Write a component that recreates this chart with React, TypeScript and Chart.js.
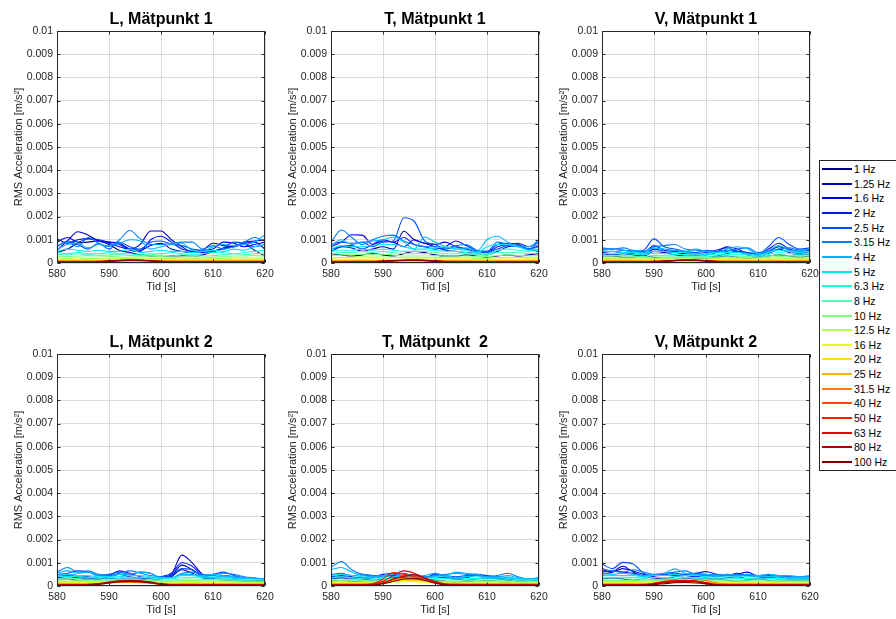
import React, { useEffect, useRef } from 'react';
import { Chart, registerables } from 'chart.js';

Chart.register(...registerables);

// Time axis [s]
const times = [580, 582, 584, 586, 588, 590, 592, 594, 596, 598, 600, 602, 604, 606, 608, 610, 612, 614, 616, 618, 620];

const bandLabels = ['1 Hz', '1.25 Hz', '1.6 Hz', '2 Hz', '2.5 Hz', '3.15 Hz', '4 Hz', '5 Hz', '6.3 Hz', '8 Hz', '10 Hz', '12.5 Hz', '16 Hz', '20 Hz', '25 Hz', '31.5 Hz', '40 Hz', '50 Hz', '63 Hz', '80 Hz', '100 Hz'];

const panelTitles = ['L, Mätpunkt 1', 'T, Mätpunkt 1', 'V, Mätpunkt 1', 'L, Mätpunkt 2', 'T, Mätpunkt  2', 'V, Mätpunkt 2'];

const xTicks = [580, 590, 600, 610, 620];
const yTicks = [0, 0.001, 0.002, 0.003, 0.004, 0.005, 0.006, 0.007, 0.008, 0.009, 0.01];

// RMS acceleration per band, values in mm/s² (1e-3 m/s²), one row per band, one column per time
const valuesL1 = [
  [0.45, 0.6, 0.85, 0.9, 0.95, 0.8, 0.55, 0.45, 0.35, 0.3, 0.28, 0.3, 0.32, 0.3, 0.35, 0.5, 0.65, 0.7, 0.8, 0.55, 0.3],
  [0.55, 0.95, 1.35, 1.2, 0.95, 0.9, 0.85, 0.6, 0.55, 0.75, 0.85, 0.6, 0.5, 0.45, 0.55, 0.85, 0.75, 0.7, 0.9, 0.95, 1.0],
  [0.9, 1.1, 0.9, 1.05, 0.95, 0.85, 0.7, 0.6, 0.8, 1.38, 1.38, 1.0, 0.7, 0.5, 0.55, 0.6, 0.9, 0.85, 0.7, 0.8, 0.9],
  [1.05, 0.85, 1.0, 1.05, 1.0, 0.9, 0.8, 0.55, 0.5, 1.0, 1.15, 0.9, 0.6, 0.5, 0.45, 0.5, 0.6, 0.75, 0.85, 0.9, 0.6],
  [0.7, 0.95, 0.8, 0.6, 0.85, 0.6, 0.9, 0.7, 0.6, 0.9, 0.95, 0.8, 0.75, 0.6, 0.55, 0.5, 0.65, 0.9, 0.85, 0.7, 0.8],
  [0.75, 0.9, 0.7, 1.1, 0.85, 0.7, 1.0, 1.4, 1.05, 0.8, 0.8, 0.85, 0.9, 0.9, 0.6, 0.75, 0.6, 0.7, 0.9, 1.1, 0.95],
  [0.6, 0.8, 0.85, 0.65, 0.8, 0.75, 0.85, 1.0, 0.95, 0.6, 0.7, 0.8, 0.85, 0.55, 0.5, 0.7, 0.8, 0.75, 0.8, 0.9, 1.22],
  [0.5, 0.6, 0.55, 0.5, 0.55, 0.5, 0.5, 0.6, 0.45, 0.5, 0.55, 0.5, 0.5, 0.45, 0.5, 0.55, 0.5, 0.6, 0.55, 0.7, 0.8],
  [0.45, 0.4, 0.45, 0.4, 0.4, 0.45, 0.4, 0.4, 0.35, 0.4, 0.4, 0.45, 0.4, 0.35, 0.4, 0.45, 0.45, 0.4, 0.45, 0.5, 0.55],
  [0.38, 0.35, 0.4, 0.37, 0.33, 0.35, 0.36, 0.33, 0.31, 0.35, 0.32, 0.3, 0.35, 0.34, 0.3, 0.32, 0.35, 0.4, 0.36, 0.4, 0.42],
  [0.3, 0.28, 0.3, 0.32, 0.3, 0.28, 0.26, 0.25, 0.27, 0.3, 0.28, 0.25, 0.25, 0.27, 0.25, 0.25, 0.28, 0.3, 0.3, 0.32, 0.3],
  [0.22, 0.2, 0.22, 0.2, 0.2, 0.18, 0.2, 0.2, 0.18, 0.2, 0.2, 0.2, 0.18, 0.2, 0.18, 0.2, 0.2, 0.22, 0.22, 0.2, 0.22],
  [0.16, 0.15, 0.16, 0.15, 0.14, 0.15, 0.14, 0.15, 0.14, 0.15, 0.15, 0.14, 0.15, 0.14, 0.14, 0.15, 0.15, 0.16, 0.15, 0.16, 0.15],
  [0.12, 0.12, 0.13, 0.12, 0.11, 0.12, 0.12, 0.13, 0.12, 0.12, 0.12, 0.11, 0.12, 0.11, 0.11, 0.12, 0.12, 0.13, 0.12, 0.12, 0.12],
  [0.1, 0.1, 0.1, 0.1, 0.09, 0.1, 0.1, 0.11, 0.1, 0.1, 0.1, 0.09, 0.1, 0.09, 0.09, 0.1, 0.1, 0.1, 0.1, 0.1, 0.1],
  [0.08, 0.08, 0.08, 0.08, 0.08, 0.09, 0.09, 0.1, 0.09, 0.09, 0.08, 0.08, 0.08, 0.07, 0.07, 0.08, 0.08, 0.08, 0.08, 0.08, 0.08],
  [0.06, 0.06, 0.06, 0.06, 0.07, 0.08, 0.09, 0.1, 0.1, 0.09, 0.07, 0.06, 0.06, 0.06, 0.06, 0.06, 0.06, 0.06, 0.06, 0.06, 0.06],
  [0.05, 0.05, 0.05, 0.05, 0.06, 0.08, 0.1, 0.11, 0.11, 0.1, 0.07, 0.05, 0.05, 0.05, 0.05, 0.05, 0.05, 0.05, 0.05, 0.05, 0.05],
  [0.04, 0.04, 0.04, 0.04, 0.05, 0.08, 0.11, 0.12, 0.12, 0.1, 0.06, 0.04, 0.04, 0.04, 0.04, 0.04, 0.04, 0.04, 0.04, 0.04, 0.04],
  [0.04, 0.04, 0.04, 0.04, 0.05, 0.09, 0.12, 0.14, 0.13, 0.1, 0.06, 0.04, 0.04, 0.04, 0.04, 0.04, 0.04, 0.04, 0.04, 0.04, 0.04],
  [0.03, 0.03, 0.03, 0.03, 0.04, 0.07, 0.1, 0.12, 0.12, 0.09, 0.05, 0.03, 0.03, 0.03, 0.03, 0.03, 0.03, 0.03, 0.03, 0.03, 0.03],
];

const valuesT1 = [
  [0.4, 0.35, 0.3, 0.35, 0.4, 0.35, 0.3, 0.4, 0.5, 0.45, 0.35, 0.3, 0.3, 0.35, 0.3, 0.25, 0.3, 0.35, 0.3, 0.35, 0.4],
  [0.6, 0.7, 0.65, 0.5, 0.6, 0.7, 0.6, 1.37, 1.0, 0.85, 0.7, 0.55, 0.5, 0.45, 0.4, 0.35, 0.5, 0.7, 0.75, 0.6, 0.5],
  [0.7, 0.9, 1.22, 1.2, 0.8, 0.95, 0.9, 0.7, 1.0, 0.85, 0.8, 0.9, 0.7, 0.6, 0.5, 0.5, 0.8, 0.85, 0.8, 0.6, 0.75],
  [0.5, 0.7, 0.75, 0.6, 0.8, 1.0, 0.9, 1.1, 0.8, 0.7, 0.6, 0.7, 0.95, 0.75, 0.55, 0.45, 0.7, 0.8, 0.85, 0.7, 0.95],
  [0.8, 0.9, 0.85, 0.9, 0.7, 0.9, 0.95, 1.95, 1.8, 0.95, 0.8, 0.6, 0.7, 0.6, 0.5, 0.45, 0.6, 0.75, 0.7, 0.6, 0.9],
  [0.9, 1.42, 1.1, 0.8, 1.0, 1.15, 1.2, 0.95, 0.8, 0.7, 0.7, 0.65, 0.75, 0.8, 0.55, 0.5, 0.9, 0.8, 0.75, 0.6, 0.7],
  [0.75, 1.0, 0.8, 0.9, 0.95, 1.0, 1.12, 0.9, 0.6, 1.12, 0.9, 0.7, 0.6, 0.65, 0.5, 1.0, 1.15, 0.9, 0.7, 0.7, 1.0],
  [0.6, 0.75, 0.7, 0.7, 0.75, 0.8, 0.8, 0.7, 0.6, 0.6, 0.65, 0.7, 0.6, 0.55, 0.45, 0.7, 0.8, 0.8, 0.7, 0.55, 0.6],
  [0.5, 0.55, 0.55, 0.6, 0.55, 0.6, 0.55, 0.5, 0.5, 0.5, 0.55, 0.5, 0.5, 0.45, 0.4, 0.4, 0.55, 0.6, 0.55, 0.5, 0.55],
  [0.4, 0.45, 0.45, 0.5, 0.45, 0.5, 0.45, 0.4, 0.4, 0.4, 0.45, 0.4, 0.4, 0.4, 0.35, 0.35, 0.45, 0.45, 0.45, 0.4, 0.45],
  [0.3, 0.35, 0.35, 0.38, 0.35, 0.38, 0.35, 0.3, 0.3, 0.3, 0.32, 0.3, 0.3, 0.3, 0.28, 0.28, 0.32, 0.35, 0.33, 0.3, 0.32],
  [0.22, 0.25, 0.25, 0.28, 0.25, 0.26, 0.25, 0.22, 0.22, 0.22, 0.24, 0.22, 0.22, 0.22, 0.2, 0.2, 0.24, 0.25, 0.24, 0.22, 0.24],
  [0.16, 0.17, 0.17, 0.18, 0.17, 0.17, 0.16, 0.16, 0.16, 0.16, 0.17, 0.16, 0.16, 0.16, 0.15, 0.15, 0.17, 0.17, 0.17, 0.16, 0.17],
  [0.13, 0.13, 0.13, 0.14, 0.13, 0.13, 0.13, 0.13, 0.13, 0.13, 0.13, 0.13, 0.13, 0.12, 0.12, 0.12, 0.13, 0.13, 0.13, 0.13, 0.13],
  [0.1, 0.1, 0.1, 0.11, 0.1, 0.1, 0.1, 0.11, 0.11, 0.1, 0.1, 0.1, 0.1, 0.1, 0.09, 0.09, 0.1, 0.1, 0.1, 0.1, 0.1],
  [0.08, 0.08, 0.08, 0.08, 0.08, 0.09, 0.1, 0.1, 0.1, 0.1, 0.09, 0.08, 0.08, 0.08, 0.07, 0.07, 0.08, 0.08, 0.08, 0.08, 0.08],
  [0.06, 0.06, 0.06, 0.06, 0.06, 0.08, 0.09, 0.1, 0.1, 0.1, 0.09, 0.07, 0.06, 0.06, 0.06, 0.06, 0.06, 0.06, 0.06, 0.06, 0.06],
  [0.05, 0.05, 0.05, 0.05, 0.05, 0.07, 0.1, 0.11, 0.12, 0.11, 0.09, 0.06, 0.05, 0.05, 0.05, 0.05, 0.05, 0.05, 0.05, 0.05, 0.05],
  [0.04, 0.04, 0.04, 0.04, 0.05, 0.07, 0.1, 0.12, 0.13, 0.12, 0.09, 0.06, 0.04, 0.04, 0.04, 0.04, 0.04, 0.04, 0.04, 0.04, 0.04],
  [0.04, 0.04, 0.04, 0.04, 0.05, 0.08, 0.11, 0.13, 0.14, 0.12, 0.09, 0.05, 0.04, 0.04, 0.04, 0.04, 0.04, 0.04, 0.04, 0.04, 0.04],
  [0.03, 0.03, 0.03, 0.03, 0.04, 0.06, 0.09, 0.11, 0.12, 0.1, 0.07, 0.04, 0.03, 0.03, 0.03, 0.03, 0.03, 0.03, 0.03, 0.03, 0.03],
];

const valuesV1 = [
  [0.3, 0.3, 0.25, 0.25, 0.3, 0.25, 0.2, 0.2, 0.25, 0.2, 0.2, 0.25, 0.3, 0.25, 0.2, 0.25, 0.3, 0.35, 0.3, 0.25, 0.3],
  [0.4, 0.35, 0.4, 0.35, 0.3, 0.5, 0.45, 0.35, 0.3, 0.3, 0.25, 0.3, 0.4, 0.5, 0.35, 0.3, 0.4, 0.6, 0.45, 0.35, 0.4],
  [0.45, 0.5, 0.45, 0.4, 0.35, 0.6, 0.5, 0.45, 0.4, 0.35, 0.35, 0.45, 0.7, 0.6, 0.4, 0.35, 0.5, 0.7, 0.55, 0.4, 0.5],
  [0.55, 0.6, 0.55, 0.5, 0.45, 0.75, 0.55, 0.5, 0.45, 0.4, 0.45, 0.55, 0.65, 0.5, 0.45, 0.35, 0.6, 0.85, 0.6, 0.5, 0.55],
  [0.6, 0.6, 0.55, 0.5, 0.55, 1.04, 0.7, 0.6, 0.5, 0.45, 0.55, 0.5, 0.55, 0.5, 0.45, 0.4, 0.7, 1.1, 0.8, 0.6, 0.65],
  [0.65, 0.6, 0.65, 0.55, 0.5, 0.7, 0.75, 0.8, 0.6, 0.55, 0.5, 0.45, 0.5, 0.6, 0.65, 0.45, 0.5, 0.6, 0.65, 0.55, 0.6],
  [0.55, 0.6, 0.55, 0.5, 0.45, 0.65, 0.6, 0.55, 0.5, 0.6, 0.5, 0.45, 0.6, 0.7, 0.6, 0.4, 0.55, 0.75, 0.55, 0.5, 0.6],
  [0.5, 0.5, 0.45, 0.45, 0.4, 0.5, 0.5, 0.45, 0.45, 0.4, 0.4, 0.45, 0.45, 0.45, 0.4, 0.35, 0.45, 0.55, 0.5, 0.45, 0.5],
  [0.4, 0.4, 0.4, 0.38, 0.35, 0.42, 0.4, 0.38, 0.36, 0.35, 0.35, 0.38, 0.38, 0.38, 0.35, 0.3, 0.38, 0.45, 0.42, 0.38, 0.4],
  [0.32, 0.32, 0.32, 0.3, 0.28, 0.33, 0.32, 0.3, 0.28, 0.28, 0.28, 0.3, 0.3, 0.3, 0.28, 0.25, 0.3, 0.35, 0.33, 0.3, 0.32],
  [0.26, 0.26, 0.26, 0.25, 0.23, 0.26, 0.26, 0.25, 0.23, 0.23, 0.23, 0.25, 0.25, 0.25, 0.23, 0.21, 0.25, 0.28, 0.27, 0.25, 0.26],
  [0.2, 0.2, 0.2, 0.19, 0.18, 0.2, 0.2, 0.19, 0.18, 0.18, 0.18, 0.19, 0.19, 0.19, 0.18, 0.17, 0.19, 0.21, 0.2, 0.19, 0.2],
  [0.15, 0.15, 0.15, 0.15, 0.14, 0.15, 0.15, 0.15, 0.14, 0.14, 0.14, 0.15, 0.15, 0.15, 0.14, 0.13, 0.15, 0.16, 0.15, 0.15, 0.15],
  [0.12, 0.12, 0.12, 0.12, 0.11, 0.12, 0.12, 0.12, 0.12, 0.12, 0.11, 0.12, 0.12, 0.12, 0.11, 0.11, 0.12, 0.12, 0.12, 0.12, 0.12],
  [0.1, 0.1, 0.1, 0.1, 0.09, 0.1, 0.1, 0.1, 0.1, 0.1, 0.1, 0.1, 0.1, 0.1, 0.09, 0.09, 0.1, 0.1, 0.1, 0.1, 0.1],
  [0.08, 0.08, 0.08, 0.08, 0.07, 0.08, 0.09, 0.1, 0.1, 0.1, 0.09, 0.08, 0.08, 0.08, 0.07, 0.07, 0.08, 0.08, 0.08, 0.08, 0.08],
  [0.06, 0.06, 0.06, 0.06, 0.06, 0.07, 0.08, 0.1, 0.11, 0.11, 0.1, 0.08, 0.06, 0.06, 0.06, 0.06, 0.06, 0.06, 0.06, 0.06, 0.06],
  [0.05, 0.05, 0.05, 0.05, 0.05, 0.06, 0.08, 0.11, 0.12, 0.12, 0.1, 0.07, 0.05, 0.05, 0.05, 0.05, 0.05, 0.05, 0.05, 0.05, 0.05],
  [0.04, 0.04, 0.04, 0.04, 0.04, 0.05, 0.08, 0.11, 0.13, 0.13, 0.1, 0.06, 0.04, 0.04, 0.04, 0.04, 0.04, 0.04, 0.04, 0.04, 0.04],
  [0.04, 0.04, 0.04, 0.04, 0.04, 0.05, 0.08, 0.12, 0.14, 0.13, 0.1, 0.06, 0.04, 0.04, 0.04, 0.04, 0.04, 0.04, 0.04, 0.04, 0.04],
  [0.03, 0.03, 0.03, 0.03, 0.03, 0.04, 0.06, 0.1, 0.12, 0.11, 0.08, 0.05, 0.03, 0.03, 0.03, 0.03, 0.03, 0.03, 0.03, 0.03, 0.03],
];

const valuesL2 = [
  [0.3, 0.3, 0.25, 0.25, 0.2, 0.2, 0.25, 0.25, 0.2, 0.2, 0.3, 0.4, 0.7, 0.55, 0.35, 0.3, 0.25, 0.25, 0.2, 0.2, 0.2],
  [0.35, 0.4, 0.35, 0.3, 0.3, 0.35, 0.3, 0.3, 0.3, 0.25, 0.35, 0.45, 0.9, 0.7, 0.4, 0.3, 0.3, 0.3, 0.25, 0.25, 0.25],
  [0.4, 0.45, 0.4, 0.35, 0.3, 0.4, 0.5, 0.4, 0.35, 0.3, 0.35, 0.5, 1.33, 1.0, 0.5, 0.35, 0.4, 0.35, 0.3, 0.3, 0.3],
  [0.45, 0.5, 0.45, 0.4, 0.35, 0.45, 0.65, 0.55, 0.4, 0.35, 0.4, 0.55, 1.0, 0.85, 0.45, 0.35, 0.45, 0.4, 0.3, 0.3, 0.3],
  [0.5, 0.55, 0.65, 0.6, 0.45, 0.5, 0.6, 0.5, 0.6, 0.55, 0.35, 0.45, 0.75, 0.7, 0.45, 0.5, 0.6, 0.45, 0.35, 0.3, 0.3],
  [0.6, 0.8, 0.6, 0.65, 0.5, 0.45, 0.55, 0.65, 0.55, 0.45, 0.4, 0.35, 0.55, 0.6, 0.5, 0.45, 0.55, 0.5, 0.4, 0.35, 0.3],
  [0.55, 0.65, 0.55, 0.6, 0.45, 0.4, 0.5, 0.5, 0.6, 0.55, 0.35, 0.35, 0.5, 0.5, 0.45, 0.5, 0.45, 0.4, 0.35, 0.3, 0.3],
  [0.45, 0.5, 0.45, 0.45, 0.4, 0.4, 0.4, 0.45, 0.45, 0.4, 0.35, 0.35, 0.45, 0.45, 0.4, 0.4, 0.4, 0.35, 0.3, 0.3, 0.28],
  [0.4, 0.42, 0.4, 0.38, 0.35, 0.35, 0.35, 0.38, 0.38, 0.35, 0.3, 0.3, 0.38, 0.38, 0.35, 0.35, 0.35, 0.3, 0.28, 0.27, 0.25],
  [0.32, 0.35, 0.32, 0.3, 0.3, 0.28, 0.3, 0.3, 0.3, 0.28, 0.25, 0.25, 0.3, 0.3, 0.28, 0.28, 0.28, 0.25, 0.22, 0.22, 0.2],
  [0.25, 0.27, 0.25, 0.24, 0.24, 0.25, 0.26, 0.25, 0.25, 0.24, 0.2, 0.2, 0.24, 0.24, 0.22, 0.22, 0.22, 0.2, 0.18, 0.18, 0.17],
  [0.2, 0.2, 0.2, 0.19, 0.19, 0.2, 0.22, 0.21, 0.2, 0.19, 0.16, 0.16, 0.18, 0.18, 0.17, 0.17, 0.17, 0.16, 0.15, 0.15, 0.14],
  [0.15, 0.16, 0.15, 0.15, 0.15, 0.16, 0.17, 0.17, 0.16, 0.15, 0.13, 0.13, 0.15, 0.15, 0.14, 0.14, 0.14, 0.13, 0.12, 0.12, 0.12],
  [0.12, 0.12, 0.12, 0.12, 0.13, 0.15, 0.16, 0.16, 0.15, 0.13, 0.11, 0.11, 0.12, 0.12, 0.11, 0.11, 0.11, 0.1, 0.1, 0.1, 0.1],
  [0.1, 0.1, 0.1, 0.1, 0.11, 0.13, 0.15, 0.15, 0.14, 0.12, 0.09, 0.09, 0.1, 0.1, 0.09, 0.09, 0.09, 0.09, 0.08, 0.08, 0.08],
  [0.08, 0.08, 0.08, 0.08, 0.1, 0.13, 0.16, 0.16, 0.15, 0.12, 0.08, 0.07, 0.08, 0.08, 0.07, 0.07, 0.07, 0.07, 0.07, 0.07, 0.07],
  [0.06, 0.06, 0.06, 0.07, 0.1, 0.14, 0.17, 0.18, 0.17, 0.13, 0.08, 0.06, 0.06, 0.06, 0.06, 0.06, 0.06, 0.06, 0.06, 0.06, 0.06],
  [0.05, 0.05, 0.05, 0.06, 0.1, 0.15, 0.19, 0.2, 0.19, 0.14, 0.08, 0.05, 0.05, 0.05, 0.05, 0.05, 0.05, 0.05, 0.05, 0.05, 0.05],
  [0.04, 0.04, 0.04, 0.05, 0.09, 0.16, 0.2, 0.22, 0.21, 0.16, 0.08, 0.05, 0.04, 0.04, 0.04, 0.04, 0.04, 0.04, 0.04, 0.04, 0.04],
  [0.04, 0.04, 0.04, 0.05, 0.09, 0.17, 0.22, 0.23, 0.22, 0.17, 0.09, 0.05, 0.04, 0.04, 0.04, 0.04, 0.04, 0.04, 0.04, 0.04, 0.04],
  [0.03, 0.03, 0.03, 0.04, 0.07, 0.13, 0.18, 0.2, 0.19, 0.14, 0.07, 0.04, 0.03, 0.03, 0.03, 0.03, 0.03, 0.03, 0.03, 0.03, 0.03],
];

const valuesT2 = [
  [0.2, 0.25, 0.2, 0.2, 0.15, 0.2, 0.2, 0.25, 0.2, 0.2, 0.25, 0.2, 0.15, 0.2, 0.2, 0.25, 0.2, 0.15, 0.15, 0.2, 0.2],
  [0.3, 0.35, 0.3, 0.3, 0.25, 0.3, 0.35, 0.4, 0.3, 0.25, 0.3, 0.35, 0.3, 0.25, 0.3, 0.35, 0.3, 0.25, 0.2, 0.25, 0.25],
  [0.35, 0.4, 0.35, 0.3, 0.35, 0.4, 0.45, 0.35, 0.3, 0.35, 0.4, 0.35, 0.3, 0.35, 0.45, 0.4, 0.35, 0.3, 0.25, 0.25, 0.3],
  [0.4, 0.45, 0.4, 0.35, 0.4, 0.5, 0.55, 0.4, 0.35, 0.3, 0.55, 0.4, 0.35, 0.4, 0.5, 0.4, 0.35, 0.3, 0.3, 0.25, 0.3],
  [0.5, 0.55, 0.45, 0.5, 0.45, 0.4, 0.5, 0.55, 0.4, 0.35, 0.5, 0.45, 0.4, 0.45, 0.5, 0.45, 0.4, 0.35, 0.3, 0.3, 0.35],
  [0.8, 1.05, 0.7, 0.5, 0.45, 0.45, 0.4, 0.45, 0.5, 0.4, 0.45, 0.5, 0.55, 0.5, 0.45, 0.4, 0.45, 0.55, 0.4, 0.3, 0.3],
  [0.7, 0.8, 0.6, 0.45, 0.4, 0.45, 0.5, 0.45, 0.4, 0.45, 0.55, 0.45, 0.6, 0.55, 0.5, 0.4, 0.4, 0.45, 0.35, 0.3, 0.35],
  [0.45, 0.5, 0.45, 0.4, 0.35, 0.4, 0.4, 0.4, 0.35, 0.35, 0.4, 0.4, 0.35, 0.4, 0.4, 0.35, 0.35, 0.4, 0.3, 0.28, 0.3],
  [0.35, 0.4, 0.35, 0.32, 0.3, 0.32, 0.32, 0.32, 0.3, 0.3, 0.32, 0.32, 0.3, 0.32, 0.32, 0.3, 0.3, 0.32, 0.27, 0.25, 0.27],
  [0.28, 0.3, 0.28, 0.26, 0.25, 0.26, 0.26, 0.26, 0.25, 0.25, 0.26, 0.26, 0.25, 0.26, 0.26, 0.25, 0.25, 0.26, 0.22, 0.2, 0.22],
  [0.22, 0.24, 0.22, 0.21, 0.2, 0.21, 0.22, 0.22, 0.22, 0.21, 0.2, 0.2, 0.2, 0.21, 0.2, 0.2, 0.2, 0.2, 0.18, 0.17, 0.18],
  [0.18, 0.18, 0.17, 0.17, 0.16, 0.17, 0.18, 0.2, 0.2, 0.18, 0.16, 0.16, 0.16, 0.16, 0.16, 0.16, 0.16, 0.16, 0.15, 0.14, 0.15],
  [0.14, 0.15, 0.14, 0.14, 0.14, 0.16, 0.18, 0.2, 0.19, 0.17, 0.14, 0.13, 0.13, 0.13, 0.13, 0.13, 0.13, 0.13, 0.12, 0.12, 0.12],
  [0.12, 0.12, 0.12, 0.12, 0.12, 0.15, 0.2, 0.24, 0.23, 0.2, 0.14, 0.11, 0.11, 0.11, 0.11, 0.11, 0.11, 0.11, 0.1, 0.1, 0.1],
  [0.1, 0.1, 0.1, 0.1, 0.11, 0.15, 0.23, 0.28, 0.27, 0.22, 0.14, 0.1, 0.09, 0.09, 0.09, 0.09, 0.09, 0.09, 0.09, 0.09, 0.09],
  [0.08, 0.08, 0.08, 0.08, 0.1, 0.16, 0.26, 0.33, 0.32, 0.25, 0.15, 0.09, 0.08, 0.08, 0.08, 0.08, 0.08, 0.08, 0.08, 0.08, 0.08],
  [0.06, 0.06, 0.06, 0.06, 0.08, 0.15, 0.3, 0.42, 0.44, 0.35, 0.2, 0.1, 0.07, 0.06, 0.06, 0.06, 0.06, 0.06, 0.06, 0.06, 0.06],
  [0.05, 0.05, 0.05, 0.05, 0.1, 0.3, 0.58, 0.5, 0.4, 0.3, 0.18, 0.08, 0.05, 0.05, 0.05, 0.05, 0.05, 0.05, 0.05, 0.05, 0.05],
  [0.04, 0.04, 0.04, 0.04, 0.07, 0.2, 0.45, 0.65, 0.55, 0.35, 0.15, 0.06, 0.04, 0.04, 0.04, 0.04, 0.04, 0.04, 0.04, 0.04, 0.04],
  [0.04, 0.04, 0.04, 0.04, 0.05, 0.12, 0.3, 0.42, 0.48, 0.35, 0.18, 0.07, 0.04, 0.04, 0.04, 0.04, 0.04, 0.04, 0.04, 0.04, 0.04],
  [0.03, 0.03, 0.03, 0.03, 0.04, 0.1, 0.2, 0.3, 0.32, 0.25, 0.12, 0.05, 0.03, 0.03, 0.03, 0.03, 0.03, 0.03, 0.03, 0.03, 0.03],
];

const valuesV2 = [
  [0.3, 0.35, 0.3, 0.25, 0.3, 0.25, 0.2, 0.2, 0.25, 0.2, 0.25, 0.3, 0.25, 0.2, 0.25, 0.3, 0.25, 0.2, 0.25, 0.25, 0.25],
  [0.5, 0.6, 0.85, 0.6, 0.4, 0.35, 0.3, 0.3, 0.35, 0.3, 0.35, 0.3, 0.35, 0.4, 0.3, 0.3, 0.35, 0.3, 0.3, 0.3, 0.3],
  [0.7, 0.6, 0.75, 0.65, 0.5, 0.4, 0.35, 0.4, 0.45, 0.4, 0.45, 0.4, 0.45, 0.5, 0.6, 0.4, 0.35, 0.4, 0.35, 0.35, 0.35],
  [0.6, 0.65, 0.6, 0.55, 0.45, 0.45, 0.5, 0.45, 0.5, 0.55, 0.62, 0.5, 0.45, 0.55, 0.45, 0.4, 0.45, 0.4, 0.35, 0.4, 0.4],
  [0.95, 0.75, 1.02, 0.95, 0.55, 0.45, 0.5, 0.55, 0.5, 0.55, 0.5, 0.45, 0.5, 0.45, 0.5, 0.45, 0.4, 0.45, 0.4, 0.4, 0.35],
  [0.75, 0.65, 0.6, 0.7, 0.6, 0.5, 0.55, 0.6, 0.65, 0.5, 0.45, 0.5, 0.45, 0.5, 0.45, 0.45, 0.5, 0.45, 0.4, 0.4, 0.45],
  [0.55, 0.5, 0.55, 0.5, 0.45, 0.5, 0.55, 0.74, 0.55, 0.5, 0.5, 0.45, 0.5, 0.45, 0.5, 0.45, 0.5, 0.45, 0.45, 0.4, 0.4],
  [0.45, 0.45, 0.45, 0.45, 0.4, 0.45, 0.45, 0.5, 0.45, 0.45, 0.4, 0.4, 0.4, 0.4, 0.4, 0.4, 0.4, 0.4, 0.35, 0.35, 0.35],
  [0.38, 0.38, 0.38, 0.37, 0.35, 0.36, 0.36, 0.4, 0.38, 0.36, 0.34, 0.34, 0.34, 0.33, 0.33, 0.34, 0.33, 0.33, 0.3, 0.3, 0.3],
  [0.3, 0.3, 0.3, 0.3, 0.28, 0.28, 0.3, 0.32, 0.3, 0.3, 0.28, 0.27, 0.27, 0.26, 0.26, 0.27, 0.26, 0.26, 0.25, 0.25, 0.25],
  [0.24, 0.24, 0.24, 0.24, 0.22, 0.23, 0.24, 0.26, 0.24, 0.24, 0.22, 0.22, 0.22, 0.21, 0.21, 0.22, 0.21, 0.21, 0.2, 0.2, 0.2],
  [0.19, 0.19, 0.19, 0.19, 0.18, 0.19, 0.2, 0.21, 0.2, 0.2, 0.18, 0.18, 0.18, 0.17, 0.17, 0.18, 0.17, 0.17, 0.16, 0.16, 0.16],
  [0.15, 0.15, 0.15, 0.15, 0.14, 0.15, 0.16, 0.17, 0.17, 0.17, 0.15, 0.14, 0.14, 0.14, 0.14, 0.14, 0.14, 0.14, 0.13, 0.13, 0.13],
  [0.12, 0.12, 0.12, 0.12, 0.12, 0.13, 0.14, 0.15, 0.16, 0.17, 0.14, 0.12, 0.12, 0.12, 0.12, 0.12, 0.12, 0.12, 0.11, 0.11, 0.11],
  [0.1, 0.1, 0.1, 0.1, 0.1, 0.11, 0.13, 0.15, 0.17, 0.2, 0.16, 0.11, 0.1, 0.1, 0.1, 0.1, 0.1, 0.1, 0.09, 0.09, 0.09],
  [0.08, 0.08, 0.08, 0.08, 0.08, 0.1, 0.13, 0.16, 0.2, 0.28, 0.25, 0.14, 0.09, 0.08, 0.08, 0.08, 0.08, 0.08, 0.08, 0.08, 0.08],
  [0.06, 0.06, 0.06, 0.06, 0.07, 0.1, 0.15, 0.2, 0.22, 0.2, 0.15, 0.08, 0.06, 0.06, 0.06, 0.06, 0.06, 0.06, 0.06, 0.06, 0.06],
  [0.05, 0.05, 0.05, 0.05, 0.06, 0.12, 0.2, 0.25, 0.24, 0.2, 0.12, 0.06, 0.05, 0.05, 0.05, 0.05, 0.05, 0.05, 0.05, 0.05, 0.05],
  [0.04, 0.04, 0.04, 0.04, 0.05, 0.1, 0.18, 0.22, 0.25, 0.22, 0.14, 0.06, 0.04, 0.04, 0.04, 0.04, 0.04, 0.04, 0.04, 0.04, 0.04],
  [0.04, 0.04, 0.04, 0.04, 0.05, 0.08, 0.14, 0.18, 0.2, 0.18, 0.12, 0.05, 0.04, 0.04, 0.04, 0.04, 0.04, 0.04, 0.04, 0.04, 0.04],
  [0.03, 0.03, 0.03, 0.03, 0.04, 0.06, 0.1, 0.14, 0.15, 0.13, 0.09, 0.04, 0.03, 0.03, 0.03, 0.03, 0.03, 0.03, 0.03, 0.03, 0.03],
];

const panelValues = [valuesL1, valuesT1, valuesV1, valuesL2, valuesT2, valuesV2];

// ---------- styling ----------
const FONT = "'Liberation Sans', Arial, Helvetica, sans-serif";
const AXIS_COLOR = '#262626';
const GRID_COLOR = 'rgba(38,38,38,0.16)';

function jet(t: number): string {
  const c = (v: number) => Math.round(255 * Math.min(1, Math.max(0, v)));
  return `rgb(${c(1.5 - Math.abs(4 * t - 3))},${c(1.5 - Math.abs(4 * t - 2))},${c(1.5 - Math.abs(4 * t - 1))})`;
}
const bandColors = bandLabels.map((_, i) => jet(i / (bandLabels.length - 1)));

const Y_AXIS_W = 57;
const TITLE_H = 31;
const X_AXIS_H = 32;
const PLOT_W = 208;
const PLOT_H = 232;
const PAD_R = 14;
const CANVAS_W = Y_AXIS_W + PLOT_W + PAD_R;
const CANVAS_H = TITLE_H + PLOT_H + X_AXIS_H;
const PLOT_LEFTS = [57, 331, 602];
const PLOT_TOPS = [31, 354];

const boxPlugin = {
  id: 'matlabBox',
  afterDraw(chart: any) {
    const { ctx, chartArea: a, scales } = chart;
    const L = Math.round(a.left) + 0.5;
    const R = Math.round(a.right) - 0.5;
    const T = Math.round(a.top) + 0.5;
    const B = Math.round(a.bottom) - 0.5;
    ctx.save();
    ctx.strokeStyle = AXIS_COLOR;
    ctx.lineWidth = 1;
    ctx.strokeRect(L, T, R - L, B - T);
    ctx.beginPath();
    scales.x.ticks.forEach((t: any) => {
      const px = Math.round(scales.x.getPixelForValue(t.value)) + 0.5;
      ctx.moveTo(px, B); ctx.lineTo(px, B - 3);
      ctx.moveTo(px, T); ctx.lineTo(px, T + 3);
    });
    scales.y.ticks.forEach((t: any) => {
      const py = Math.round(scales.y.getPixelForValue(t.value)) + 0.5;
      ctx.moveTo(L, py); ctx.lineTo(L + 3, py);
      ctx.moveTo(R, py); ctx.lineTo(R - 3, py);
    });
    ctx.stroke();
    ctx.restore();
  },
};

function Panel({ title, values }: { title: string; values: number[][] }) {
  const ref = useRef<HTMLCanvasElement>(null);
  useEffect(() => {
    if (!ref.current) return;
    const chart = new Chart(ref.current, {
      type: 'line',
      data: {
        datasets: values.map((row, i) => ({
          label: bandLabels[i],
          data: row.map((v, j) => ({ x: times[j], y: v / 1000 })),
          borderColor: bandColors[i],
          backgroundColor: bandColors[i],
          borderWidth: 1.1,
          pointRadius: 0,
          fill: false,
          cubicInterpolationMode: 'monotone' as const,
          order: -i,
        })),
      },
      options: {
        responsive: false,
        animation: false,
        devicePixelRatio: 1,
        layout: { padding: { left: 0, right: PAD_R, top: 0, bottom: 0 } },
        events: [],
        plugins: {
          legend: { display: false },
          tooltip: { enabled: false },
          title: {
            display: true,
            fullSize: false,
            text: title,
            color: '#000',
            font: { family: FONT, size: 16, weight: 'bold' },
            padding: { top: 9.5, bottom: TITLE_H - 9.5 - 19.2 },
          },
        },
        scales: {
          x: {
            type: 'linear',
            min: 580,
            max: 620,
            afterBuildTicks: (s: any) => { s.ticks = xTicks.map((v) => ({ value: v })); },
            ticks: { color: AXIS_COLOR, font: { family: FONT, size: 10.5 }, padding: 5, maxRotation: 0, autoSkip: false },
            grid: { color: GRID_COLOR, drawTicks: false },
            border: { display: false },
            title: { display: true, text: 'Tid [s]', color: AXIS_COLOR, font: { family: FONT, size: 11 }, padding: { top: 0, bottom: 1.5 } },
            afterFit: (s: any) => { s.height = X_AXIS_H; },
          },
          y: {
            type: 'linear',
            min: 0,
            max: 0.01,
            afterBuildTicks: (s: any) => { s.ticks = yTicks.map((v) => ({ value: v })); },
            ticks: {
              color: AXIS_COLOR,
              font: { family: FONT, size: 10.5 },
              padding: 4,
              autoSkip: false,
              callback: (v: any) => String(Number(Number(v).toFixed(3))),
            },
            grid: { color: GRID_COLOR, drawTicks: false },
            border: { display: false },
            title: { display: true, text: 'RMS Acceleration [m/s²]', color: AXIS_COLOR, font: { family: FONT, size: 11 }, padding: { top: 12, bottom: 0 } },
            afterFit: (s: any) => { s.width = Y_AXIS_W; },
          },
        },
      } as any,
      plugins: [boxPlugin],
    });
    return () => chart.destroy();
  }, [title, values]);
  return <canvas ref={ref} width={CANVAS_W} height={CANVAS_H} style={{ width: CANVAS_W, height: CANVAS_H, display: 'block' }} />;
}

function Legend() {
  const top = 160;
  const spacing = 14.65;
  const first = 9;
  const height = Math.round(first * 2 + spacing * (bandLabels.length - 1));
  return (
    <div
      style={{
        position: 'absolute', left: 819, top, width: 84, height,
        border: `1px solid ${AXIS_COLOR}`, background: '#fff', boxSizing: 'border-box',
        fontFamily: FONT, fontSize: 10.5, color: '#000',
      }}
    >
      {bandLabels.map((lab, i) => (
        <div
          key={lab}
          style={{
            position: 'absolute', left: 2, top: Math.round(first - 1 + i * spacing) - 7, height: 14,
            display: 'flex', alignItems: 'center', whiteSpace: 'nowrap',
          }}
        >
          <div style={{ width: 30, height: 2, background: bandColors[i] }} />
          <span style={{ marginLeft: 2, lineHeight: '14px' }}>{lab}</span>
        </div>
      ))}
    </div>
  );
}

export default function App() {
  return (
    <div style={{ position: 'absolute', left: 0, top: 0, width: 896, height: 619, overflow: 'hidden', background: '#fff' }}>
      {panelTitles.map((t, k) => {
        const col = k % 3;
        const row = Math.floor(k / 3);
        return (
          <div key={k} style={{ position: 'absolute', left: PLOT_LEFTS[col] - Y_AXIS_W, top: PLOT_TOPS[row] - TITLE_H }}>
            <Panel title={t} values={panelValues[k]} />
          </div>
        );
      })}
      <Legend />
    </div>
  );
}
